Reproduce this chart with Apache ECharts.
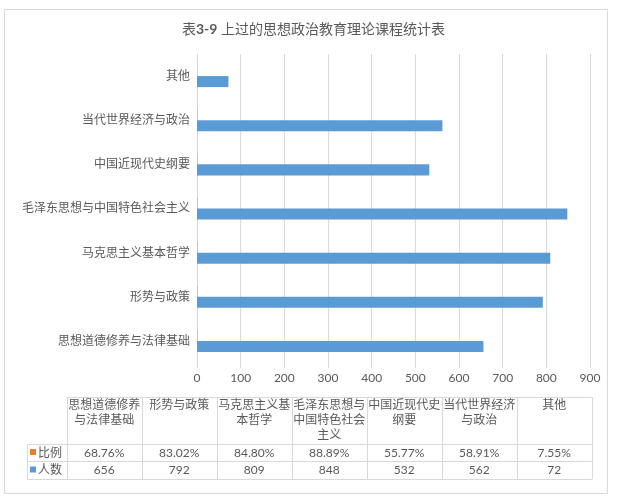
<!DOCTYPE html>
<html>
<head>
<meta charset="utf-8">
<script src="https://cdn.jsdelivr.net/npm/echarts@6/dist/echarts.min.js"></script>
<style>html,body{margin:0;padding:0;background:#fff}#c{width:627px;height:496px}</style>
</head>
<body>
<div id="c"></div>
<script>
const categories = ['思想道德修养与法律基础','形势与政策','马克思主义基本哲学','毛泽东思想与中国特色社会主义','中国近现代史纲要','当代世界经济与政治','其他'];
const countValues = [656, 792, 809, 848, 532, 562, 72];
const ratioPercents = [68.76, 83.02, 84.80, 88.89, 55.77, 58.91, 7.55];
const seriesNames = ['比例', '人数'];
const xMin = 0, xMax = 900, xStep = 100;

const FONT = "Lato, 'Noto Sans CJK SC', sans-serif";
const TXT = '#595959';
const LINE = '#d9d9d9';
const ORANGE = '#ED7D31';
const BLUE = '#5B9BD5';

const chart = echarts.init(document.getElementById('c'), null, {renderer: 'canvas'});

function wrapLines(s, n) {
  const out = [];
  for (let i = 0; i < s.length; i += n) out.push(s.slice(i, i + n));
  return out;
}

// data table below the chart
const colX0 = 66.7, colW = 75, labX0 = 27;
const rowY = [397, 444, 461, 479];
const right = colX0 + colW * categories.length;
const g = [];
function hline(x1, x2, y) {
  g.push({type: 'line', silent: true, shape: {x1: x1, y1: Math.round(y) + 0.5, x2: x2, y2: Math.round(y) + 0.5}, style: {stroke: LINE, lineWidth: 1}});
}
function vline(x, y1, y2) {
  g.push({type: 'line', silent: true, shape: {x1: Math.round(x) + 0.5, y1: y1, x2: Math.round(x) + 0.5, y2: y2}, style: {stroke: LINE, lineWidth: 1}});
}
function label(x, y, text, align) {
  g.push({type: 'text', silent: true, x: x, y: y,
    style: {text: text, align: align, verticalAlign: 'middle', fontSize: 12, fontFamily: FONT, fill: TXT}});
}
g.push({type: 'rect', silent: true, shape: {x: 4.5, y: 9.5, width: 603, height: 484}, style: {fill: 'none', stroke: LINE, lineWidth: 1}});
hline(colX0, right, rowY[0]);
hline(labX0, right, rowY[1]);
hline(labX0, right, rowY[2]);
hline(labX0, right, rowY[3]);
vline(labX0, rowY[1], rowY[3] + 0.5);
for (let i = 0; i <= categories.length; i++) vline(colX0 + colW * i, rowY[0], rowY[3] + 0.5);
categories.forEach(function (c, i) {
  const cx = colX0 + colW * i + colW / 2;
  wrapLines(c, 6).forEach(function (line, j) {
    label(cx, rowY[0] + 8.5 + j * 15, line, 'center');
  });
  label(cx, (rowY[1] + rowY[2]) / 2 + 0.5, ratioPercents[i].toFixed(2) + '%', 'center');
  label(cx, (rowY[2] + rowY[3]) / 2 + 0.5, String(countValues[i]), 'center');
});
[ORANGE, BLUE].forEach(function (col, k) {
  const cy = (rowY[1 + k] + rowY[2 + k]) / 2 + 0.5;
  g.push({type: 'rect', silent: true, shape: {x: 30, y: cy - 4, width: 6, height: 6}, style: {fill: col}});
  label(38, cy, seriesNames[k], 'left');
});

chart.setOption({
  animation: false,
  textStyle: {fontFamily: FONT, color: TXT},
  title: {
    text: '表{b|3-9} 上过的思想政治教育理论课程统计表',
    left: 'center', top: 17,
    textStyle: {fontSize: 14, fontWeight: 'normal', color: TXT, fontFamily: FONT,
      rich: {b: {fontSize: 14, fontWeight: 'bold', color: TXT, fontFamily: FONT}}}
  },
  grid: {left: 197, right: 37, top: 54, bottom: 133, containLabel: false},
  xAxis: {
    type: 'value', min: xMin, max: xMax, interval: xStep,
    axisLine: {show: false},
    axisTick: {show: true, length: 5, lineStyle: {color: LINE}},
    splitLine: {show: true, lineStyle: {color: LINE, width: 1}},
    axisLabel: {color: TXT, fontSize: 12, margin: 9, fontFamily: FONT}
  },
  yAxis: {
    type: 'category', data: categories,
    axisLine: {show: false}, axisTick: {show: false},
    axisLabel: {color: TXT, fontSize: 12, margin: 7, fontFamily: FONT}
  },
  series: [
    {name: seriesNames[0], type: 'bar', data: ratioPercents.map(function (v) { return v / 100; }), itemStyle: {color: ORANGE}, barGap: '0%', barCategoryGap: '50%'},
    {name: seriesNames[1], type: 'bar', data: countValues, itemStyle: {color: BLUE}, barGap: '0%', barCategoryGap: '50%'}
  ],
  graphic: g
});
</script>
</body>
</html>
